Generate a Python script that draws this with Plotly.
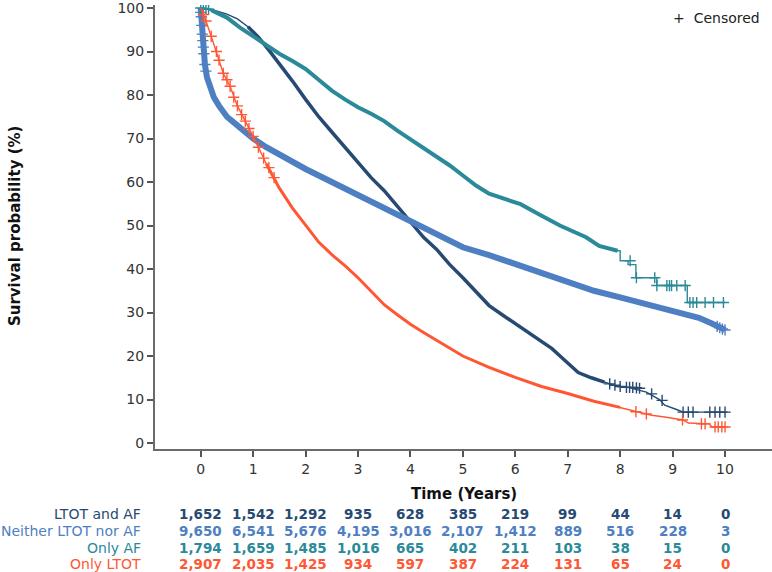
import plotly.graph_objects as go

# ---------------- data ----------------
groups = ["LTOT and AF", "Neither LTOT nor AF", "Only AF", "Only LTOT"]
colors = ["#274a72", "#4e7fc2", "#2b8a99", "#ff5733"]

t_ltot_af = [0, 0.1, 0.3, 0.5, 0.7, 0.9, 1.1, 1.3, 1.5, 1.75, 2.0, 2.25, 2.5, 2.75, 3.0, 3.25, 3.5,
             3.75, 4.0, 4.25, 4.5, 4.75, 5.0, 5.25, 5.5, 5.75, 6.0, 6.25, 6.5, 6.7, 6.9, 7.2, 7.45,
             7.7, 7.95, 8.15, 8.5, 8.75, 8.85, 9.1, 9.2, 10.05]
s_ltot_af = [100, 99.8, 99.3, 98.6, 97.5, 95.7, 93.3, 90.3, 87.2, 83.2, 79, 75, 71.5, 68, 64.5, 61, 58,
             54.5, 50.8, 47.3, 44.5, 41, 38, 34.8, 31.6, 29.5, 27.4, 25.5, 23.4, 21.7, 19.5, 16.2, 15,
             14, 13.0, 12.8, 11.7, 10, 8.7, 7.6, 7.1, 7.1]
ct_ltot_af = [7.8, 7.9, 8.0, 8.12, 8.18, 8.24, 8.31, 8.37, 8.6, 8.8, 9.2, 9.3, 9.39, 9.71, 9.81, 9.9, 10.0]
cs_ltot_af = [13.6, 13.3, 13.0, 12.8, 12.8, 12.8, 12.7, 12.6, 11.3, 9.8, 7.1, 7.1, 7.1, 7.1, 7.1, 7.1, 7.1]

t_neither = [0, 0.02, 0.05, 0.08, 0.12, 0.18, 0.25, 0.35, 0.5, 0.75, 1.0, 1.25, 1.5, 2.0, 2.5, 3.0,
             3.5, 4.0, 4.5, 5.0, 5.5, 6.0, 6.5, 7.0, 7.5, 8.0, 8.5, 9.0, 9.5, 9.75, 10.0]
s_neither = [100, 96, 91, 87, 84, 81.5, 79.5, 77.5, 75, 72.5, 70, 68, 66.3, 63, 60, 57,
             54.2, 51.2, 47.9, 45.0, 43.2, 41.2, 39.2, 37, 35, 33.5, 32, 30.5, 28.8, 27.5, 26]
ct_neither = [0.0, 0.01, 0.02, 0.03, 0.04, 0.05, 0.06, 0.08, 0.1, 9.85, 9.9, 9.95, 10.0]
cs_neither = [99, 98, 96, 94, 92.5, 91, 89.5, 87, 85.5, 26.8, 26.5, 26.2, 26]

t_only_af = [0, 0.2, 0.5, 0.75, 1.0, 1.25, 1.5, 1.75, 2.0, 2.25, 2.5, 2.75, 3.0, 3.25, 3.5, 3.75,
             4.0, 4.25, 4.5, 4.75, 5.0, 5.25, 5.5, 5.75, 6.1, 6.45, 6.85, 7.35, 7.6, 7.95, 8.0,
             8.0, 8.15, 8.15, 8.3, 8.3, 8.7, 8.7, 9.28, 9.28, 10.0]
s_only_af = [100, 99.5, 97.8, 95.5, 93.5, 91.3, 89.5, 87.8, 86, 83.5, 81, 79, 77.2, 75.7, 74, 71.8,
             69.8, 67.8, 65.8, 63.8, 61.5, 59.2, 57.3, 56.3, 54.9, 52.6, 50.0, 47.3, 45.3, 44.2, 44.2,
             41.9, 41.9, 41.0, 41.0, 38.0, 38.0, 36.2, 36.2, 32.3, 32.3]
ct_only_af = [0.0, 0.05, 0.1, 0.15, 8.19, 8.31, 8.66, 8.70, 8.89, 8.94, 8.98, 9.08, 9.24,
              9.33, 9.39, 9.46, 9.62, 9.78, 9.97]
cs_only_af = [100, 99.9, 99.8, 99.7, 41.9, 38.0, 38.0, 36.2, 36.2, 36.2, 36.2, 36.2, 36.2,
              32.3, 32.3, 32.3, 32.3, 32.3, 32.3]

t_only_ltot = [0, 0.05, 0.1, 0.2, 0.3, 0.43, 0.56, 0.7, 0.85, 1.0, 1.25, 1.5, 1.75, 2.0, 2.25,
               2.5, 2.75, 3.0, 3.25, 3.5, 3.75, 4.0, 4.25, 4.5, 4.75, 5.0, 5.5, 6.0, 6.5, 7.0,
               7.5, 8.0, 8.3, 8.6, 8.85, 9.2, 9.3, 9.7, 9.75, 10.0]
s_only_ltot = [100, 98.5, 97, 93.5, 90, 85, 82, 77.5, 74, 70.5, 64.2, 58.6, 54, 50, 46.2,
               43.3, 40.8, 38, 34.8, 31.8, 29.5, 27.3, 25.4, 23.6, 21.8, 20.0, 17.4, 15.1, 13.0, 11.4,
               9.6, 8.2, 7.2, 6.4, 6.0, 5.3, 4.6, 4.4, 3.7, 3.7]
ct_only_ltot = [0.05, 0.1, 0.2, 0.3, 0.35, 0.43, 0.5, 0.56, 0.63, 0.7, 0.78, 0.85, 0.92, 1.0,
                1.1, 1.2, 1.3, 1.4, 8.3, 8.5, 9.19, 9.55, 9.62, 9.81, 9.87, 9.94, 10.0]
cs_only_ltot = [98.5, 97, 93.5, 90, 88, 85, 83.5, 82, 79.5, 77.5, 75.5, 74, 72.3, 70.5,
                68, 65.5, 63.3, 61, 7.2, 6.7, 5.3, 4.4, 4.4, 3.7, 3.7, 3.7, 3.7]

times = [t_ltot_af, t_neither, t_only_af, t_only_ltot]
survs = [s_ltot_af, s_neither, s_only_af, s_only_ltot]
ctimes = [ct_ltot_af, ct_neither, ct_only_af, ct_only_ltot]
csurvs = [cs_ltot_af, cs_neither, cs_only_af, cs_only_ltot]
dense_ranges = [(0.9, 7.7), (0.0, 10.0), (0.2, 7.95), (1.25, 8.0)]
dense_widths = [3.5, 6, 4, 3]

tick_years = [0, 1, 2, 3, 4, 5, 6, 7, 8, 9, 10]
at_risk = [
    ["1,652", "1,542", "1,292", "935", "628", "385", "219", "99", "44", "14", "0"],
    ["9,650", "6,541", "5,676", "4,195", "3,016", "2,107", "1,412", "889", "516", "228", "3"],
    ["1,794", "1,659", "1,485", "1,016", "665", "402", "211", "103", "38", "15", "0"],
    ["2,907", "2,035", "1,425", "934", "597", "387", "224", "131", "65", "24", "0"],
]

# ---------------- figure ----------------
fig = go.Figure()
for i in range(4):
    t, s = times[i], survs[i]
    fig.add_trace(go.Scatter(x=t, y=s, mode="lines", line=dict(color=colors[i], width=1.4),
                             hoverinfo="skip", showlegend=False))
    lo, hi = dense_ranges[i]
    dt = [a for a in t if lo <= a <= hi]
    ds = [b for a, b in zip(t, s) if lo <= a <= hi]
    fig.add_trace(go.Scatter(x=dt, y=ds, mode="lines",
                             line=dict(color=colors[i], width=dense_widths[i]),
                             hoverinfo="skip", showlegend=False))
    fig.add_trace(go.Scatter(x=ctimes[i], y=csurvs[i], mode="markers",
                             marker=dict(symbol="cross-thin", size=8,
                                         line=dict(color=colors[i], width=1.4)),
                             hoverinfo="skip", showlegend=False))

font_family = "DejaVu Sans"
ann = []
ann.append(dict(text="+  Censored", x=1.0, xanchor="right", xshift=-10,
                y=1.0, yanchor="middle", yshift=-13, xref="paper", yref="paper",
                showarrow=False, font=dict(size=14, color="#222", family=font_family)))
ann.append(dict(text="<b>Survival probability (%)</b>", textangle=-90, x=-0.227, y=0.502,
                xref="paper", yref="paper", xanchor="center", yanchor="middle",
                showarrow=False, font=dict(size=15, color="#111", family=font_family)))
ann.append(dict(text="<b>Time (Years)</b>", x=0.5, y=-0.101, xref="paper", yref="paper",
                xanchor="center", yanchor="middle", showarrow=False,
                font=dict(size=15, color="#111", family=font_family)))
row_y = [-0.1457, -0.1839, -0.2220, -0.2600]
for i in range(4):
    ann.append(dict(text=groups[i], x=-0.0194, y=row_y[i], xref="paper", yref="paper",
                    xanchor="right", yanchor="middle", showarrow=False,
                    font=dict(size=14, color=colors[i], family=font_family)))
    for j, yr in enumerate(tick_years):
        ann.append(dict(text="<b>" + at_risk[i][j] + "</b>", x=yr, y=row_y[i], xref="x",
                        yref="paper", xanchor="center", yanchor="middle", showarrow=False,
                        font=dict(size=13.5, color=colors[i], family=font_family)))

fig.update_layout(
    width=772, height=572,
    margin=dict(l=155, r=0, t=3, b=123),
    paper_bgcolor="white", plot_bgcolor="white",
    font=dict(family=font_family, size=14, color="#333"),
    annotations=ann,
    xaxis=dict(range=[-0.872, 10.896], tickvals=tick_years, showgrid=False, zeroline=False,
               showline=True, linecolor="#6b6b6b", linewidth=2, ticks="outside", ticklen=6,
               tickwidth=1.5, tickcolor="#555", tickfont=dict(size=14, color="#333"),
               ticklabeloverflow="allow"),
    yaxis=dict(range=[-1.37, 100.69], tickvals=list(range(0, 101, 10)), showgrid=False,
               zeroline=False, showline=True, linecolor="#6b6b6b", linewidth=2,
               ticks="outside", ticklen=6, tickwidth=1.5, tickcolor="#555",
               tickfont=dict(size=14, color="#333"), ticklabeloverflow="allow"),
)

fig.write_html("out.html")
